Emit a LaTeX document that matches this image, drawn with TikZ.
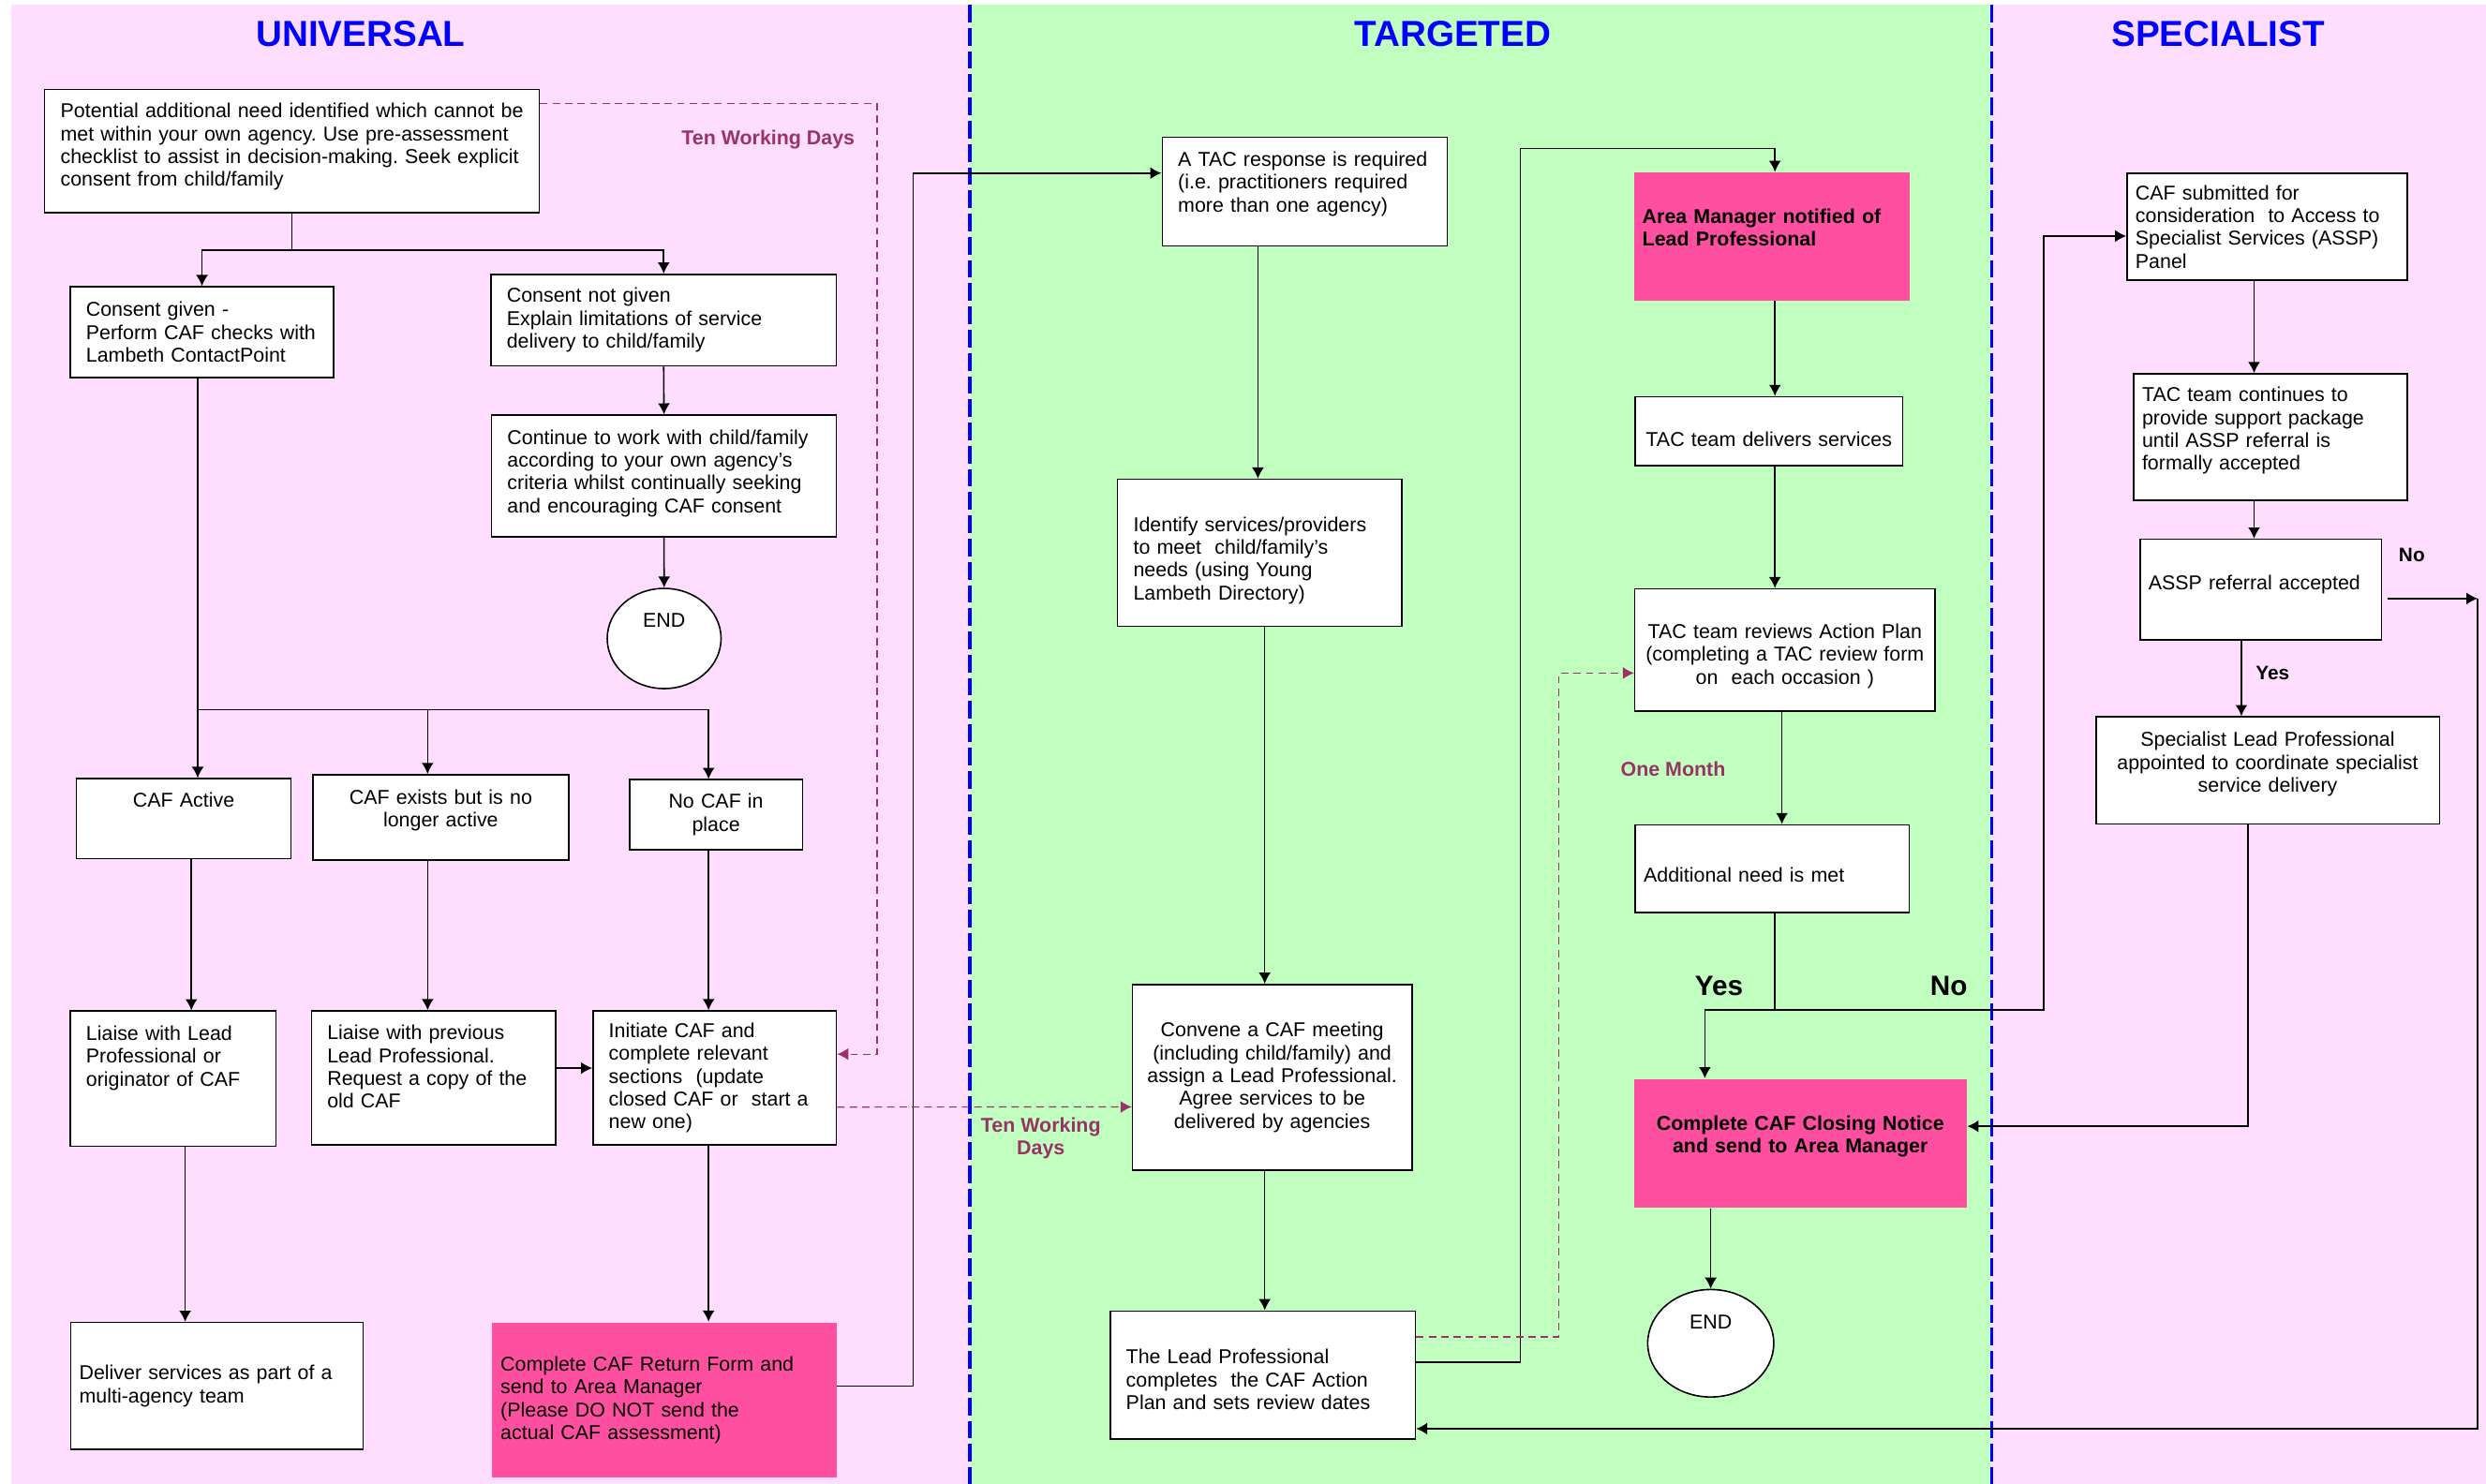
\documentclass[tikz,border=0pt]{standalone}
\usepackage{fontspec}
\setmainfont{Liberation Sans}
\usepackage{tikz}
\usetikzlibrary{arrows.meta,calc,positioning,shapes}

\definecolor{lanepink}{HTML}{FFDDFF}
\definecolor{lanegreen}{HTML}{C0FFC0}
\definecolor{hotpink}{HTML}{FF4FA0}
\definecolor{plum}{HTML}{993366}
\frenchspacing

\begin{document}
\begin{tikzpicture}[x=0.03cm,y=-0.03cm,>={Latex[length=6pt,width=6.5pt]},font=\fontsize{10.8pt}{12.3pt}\selectfont]
	\tikzstyle{block} = [draw, rectangle, fill=white, line width=0.8pt, inner xsep=0.3cm, inner ysep=2pt, align=left]
	\tikzstyle{slim} = [block, inner xsep=0.16cm]
	\tikzstyle{hot} = [slim, draw=none, fill=hotpink]
	\tikzstyle{stop} = [draw, ellipse, fill=white, line width=0.8pt, text width=1cm, align=center]
	\tikzstyle{link} = [->, line width=0.8pt]
	\tikzstyle{wait} = [->, draw=plum, line width=0.6pt, dash pattern=on 4pt off 2.7pt]
	\tikzstyle{lane} = [draw=blue, line width=1.7pt, dash pattern=on 9.5pt off 3pt]
	\tikzstyle{title} = [text=blue, font=\fontsize{19.5pt}{23pt}\selectfont\bfseries]
	\tikzstyle{delay} = [text=plum, font=\fontsize{10.8pt}{12.3pt}\selectfont\bfseries]
	\tikzstyle{answer} = [font=\fontsize{15pt}{18pt}\selectfont\bfseries]
	\tikzstyle{minor answer} = [font=\fontsize{10.5pt}{12pt}\selectfont\bfseries]

	\useasboundingbox (0,0) rectangle (1568,936);
	\fill[white] (0,0) rectangle (1568,936);
	\fill[lanepink] (7,3) rectangle (611.6,936);
	\fill[lanegreen] (611.6,3) rectangle (1256.2,936);
	\fill[lanepink] (1256.2,3) rectangle (1568,936);
	\draw[lane] (611.6,3) -- (611.6,936);
	\draw[lane] (1256.2,3) -- (1256.2,936);

	\node[title] (universal) at (227.5,21.3) {UNIVERSAL};
	\node[title] (targeted) at (916.3,21.3) {TARGETED};
	\node[title] (specialist) at (1399,21.2) {SPECIALIST};

	% universal
	\node[block, text width=8.76cm, minimum height=2.334cm] (need) at (184.2,95.3) {Potential additional need identified which cannot be\\met within your own agency. Use pre-assessment\\checklist to assist in decision-making. Seek explicit\\consent from child/family\par\kern4.4pt};
	\node[block, text width=4.386cm, minimum height=1.713cm] (consent) at (127.4,209.5) {Consent given -\\Perform CAF checks with\\Lambeth ContactPoint};
	\node[block, text width=5.937cm, minimum height=1.734cm] (noconsent) at (418.6,202) {Consent not given\\Explain limitations of service\\delivery to child/family};
	\node[block, text width=5.928cm, minimum height=2.301cm] (continue) at (418.8,300.3) {Continue to work with child/family\\according to your own agency’s\\criteria whilst continually seeking\\and encouraging CAF consent\par\kern3pt};
	\node[stop, minimum width=2.154cm, minimum height=1.896cm] (end1) at (418.9,402.8) {END\par\kern19.3pt};

	\node[slim, align=center, text width=3.739cm, minimum height=1.515cm] (cafactive) at (115.9,516.5) {CAF Active\par\kern20pt};
	\node[slim, align=center, text width=4.525cm, minimum height=1.611cm] (cafexists) at (278,515.6) {CAF exists but is no\\longer active\par\kern7.5pt};
	\node[slim, align=center, text width=2.95cm, minimum height=1.32cm] (nocaf) at (451.6,513.9) {No CAF in\\place};

	\node[block, text width=3.291cm, minimum height=2.559cm] (liaiselead) at (109.2,680.5) {Liaise with Lead\\Professional or\\originator of CAF\par\kern22.5pt};
	\node[block, text width=4.023cm, minimum height=2.535cm] (liaiseprev) at (273.5,680) {Liaise with previous\\Lead Professional.\\Request a copy of the\\old CAF\par\kern11.9pt};
	\node[block, text width=4.008cm, minimum height=2.535cm] (initiate) at (450.8,680) {Initiate CAF and\\complete relevant\\sections~ (update\\closed CAF or~ start a\\new one)};

	\node[slim, text width=5.208cm, minimum height=2.397cm] (deliver) at (136.8,874.3) {Deliver services as part of a\\multi-agency team};
	\node[hot, text width=6.195cm, minimum height=2.94cm] (returnform) at (419,883.3) {Complete CAF Return Form and\\send to Area Manager\\(Please DO NOT send the\\actual CAF assessment)};

	% targeted
	\node[block, text width=4.797cm, minimum height=2.055cm] (tacresp) at (823,120.8) {A TAC response is required\\(i.e. practitioners required\\more than one agency)\par\kern8pt};
	\node[block, text width=4.776cm, minimum height=2.778cm] (identify) at (794.5,348.7) {\rule{0pt}{16pt}Identify services/providers\\to meet~ child/family’s\\needs (using Young\\Lambeth Directory)};
	\node[slim, align=center, text width=4.968cm, minimum height=3.519cm] (convene) at (802.4,679.7) {Convene a CAF meeting\\(including child/family) and\\assign a Lead Professional.\\Agree services to be\\delivered by agencies};
	\node[block, text width=5.175cm, minimum height=2.421cm] (leadprof) at (796.5,867.4) {\rule{0pt}{12.8pt}The Lead Professional\\completes~ the CAF Action\\Plan and sets review dates};

	\node[hot, text width=4.902cm, minimum height=2.415cm, font=\fontsize{10.8pt}{12.3pt}\selectfont\bfseries] (areamgr) at (1117.6,149.2) {Area Manager notified of\\Lead Professional\par\kern9.7pt};
	\node[slim, align=center, text width=4.737cm, minimum height=1.302cm] (tacdeliv) at (1115.7,272) {\rule{0pt}{16.9pt}TAC team delivers services};
	\node[slim, align=center, text width=5.361cm, minimum height=2.307cm] (tacreview) at (1125.8,410) {\rule{0pt}{14.5pt}TAC team reviews Action Plan\\(completing a TAC review form\\on~ each occasion )};
	\node[slim, text width=4.866cm, minimum height=1.662cm] (needmet) at (1117.8,548.1) {\rule{0pt}{14.2pt}Additional need is met};
	\node[hot, align=center, text width=5.973cm, minimum height=2.43cm, font=\fontsize{10.8pt}{12.3pt}\selectfont\bfseries] (closing) at (1135.5,721.2) {Complete CAF Closing Notice\\and send to Area Manager\par\kern7pt};
	\node[stop, minimum width=2.385cm, minimum height=2.034cm] (end2) at (1079,847.4) {END\par\kern22.4pt};

	% specialist
	\node[slim, text width=4.986cm, minimum height=2.025cm] (asspsub) at (1430,143) {CAF submitted for\\consideration~ to Access to\\Specialist Services (ASSP)\\Panel};
	\node[slim, text width=4.86cm, minimum height=2.391cm] (taccont) at (1432.1,275.7) {TAC team continues to\\provide support package\\until ASSP referral is\\formally accepted\par\kern6.8pt};
	\node[slim, text width=4.248cm, minimum height=1.905cm] (asspacc) at (1425.9,372) {ASSP referral accepted\par\kern5.8pt};
	\node[slim, align=center, text width=6.18cm, minimum height=2.025cm] (speclead) at (1430.3,486) {Specialist Lead Professional\\appointed to coordinate specialist\\service delivery\par\kern6.7pt};

	% labels
	\node[delay] (tenwd) at (484.5,88) {Ten Working Days};
	\node[delay, align=center] (tenwd2) at (656.5,718) {Ten Working\\Days};
	\node[delay] (onemonth) at (1055.3,485.2) {One Month};
	\node[answer] (metyes) at (1084.2,622.3) {Yes};
	\node[answer] (metno) at (1229.2,622.3) {No};
	\node[minor answer] (accno) at (1521.2,350) {No};
	\node[minor answer] (accyes) at (1433.4,424.5) {Yes};

	% universal links
	\draw[line width=0.8pt] (need.south) -- ++(0,23.3) coordinate (split1);
	\draw[link] (split1) -| (consent.north);
	\draw[link] (split1) -| (noconsent.north);
	\draw[link] (noconsent.south) -- (continue.north);
	\draw[link] (continue.south) -- (end1.north);

	\coordinate (split2) at ($(consent.south)+(-2.7,209.1)$);
	\draw[line width=0.8pt] (split2 |- consent.south) -- (split2);
	\draw[link] (split2) -- (split2 |- cafactive.north);
	\draw[link] (split2) -| ($(cafexists.north)+(-8.3,0)$);
	\draw[link] (split2) -| ($(nocaf.north)+(-4.7,0)$);

	\coordinate (c1) at ($(cafactive.south)+(4.8,0)$);
	\coordinate (c2) at ($(cafexists.south)+(-8.3,0)$);
	\coordinate (c3) at ($(nocaf.south)+(-4.7,0)$);
	\draw[link] (c1) -- (c1 |- liaiselead.north);
	\draw[link] (c2) -- (c2 |- liaiseprev.north);
	\draw[link] (c3) -- (c3 |- initiate.north);
	\coordinate (c4) at ($(liaiseprev.east)+(0,-6.2)$);
	\draw[link] (c4) -- (c4 -| initiate.west);
	\coordinate (c5) at ($(liaiselead.south)+(7.6,0)$);
	\draw[link] (c5) -- (c5 |- deliver.north);
	\coordinate (c6) at ($(initiate.south)+(-3.9,0)$);
	\draw[link] (c6) -- (c6 |- returnform.north);

	\coordinate (rf) at ($(returnform.east)+(0,-8.9)$);
	\coordinate (ta) at ($(tacresp.west)+(0,-11.6)$);
	\draw[link] (rf) -- ++(47.8,0) |- (ta);

	\coordinate (ie) at ($(initiate.east)+(0,-15)$);
	\draw[wait] ($(need.east)+(0,-29.9)$) -- ++(212.5,0) |- (ie);
	\draw[wait] ($(initiate.east)+(0,18.4)$) -- ($(convene.west)+(0,18.6)$);

	% targeted links
	\coordinate (t1) at ($(tacresp.south)+(-29.6,0)$);
	\draw[link] (t1) -- (t1 |- identify.north);
	\coordinate (t2) at ($(identify.south)+(3.2,0)$);
	\draw[link] (t2) -- (t2 |- convene.north);
	\draw[link] (t2 |- convene.south) -- (t2 |- leadprof.north);

	\coordinate (am) at ($(areamgr.north)+(1.9,0)$);
	\draw[link] ($(leadprof.east)+(0,-7.9)$) -- ++(65.7,0) |- ($(am)+(0,-14.8)$) -- (am);
	\coordinate (tr) at ($(tacreview.west)+(0,14.6)$);
	\draw[wait] ($(leadprof.east)+(0,-24)$) -- ++(90.1,0) |- (tr);

	\draw[link] (am |- areamgr.south) -- (am |- tacdeliv.north);
	\draw[link] (am |- tacdeliv.south) -- (am |- tacreview.north);
	\coordinate (t3) at ($(tacreview.south)+(-1.9,0)$);
	\draw[link] (t3) -- (t3 |- needmet.north);

	\draw[line width=0.8pt] (am |- needmet.south) -- ++(0,60.7) coordinate (split3);
	\draw[link] (split3) -| ($(closing.north)+(-60.2,0)$);
	\coordinate (as) at ($(asspsub.west)+(0,5.9)$);
	\draw[link] (split3) -- ++(169.4,0) |- (as);
	\draw[link] (end2.north |- closing.south) -- (end2.north);

	% specialist links
	\coordinate (s1) at ($(asspsub.south)+(-8.3,0)$);
	\draw[link] (s1) -- (s1 |- taccont.north);
	\draw[link] (s1 |- taccont.south) -- (s1 |- asspacc.north);
	\coordinate (s2) at ($(asspacc.south)+(-12.2,0)$);
	\draw[link] (s2) -- (s2 |- speclead.north);

	\coordinate (nx) at ($(asspacc.east)+(3.5,5.6)$);
	\draw[link] (nx) -- ++(56.7,0) coordinate (turn);
	\draw[link] (turn) |- ($(leadprof.east)+(0,33.9)$);
	\coordinate (cl) at ($(closing.east)+(0,-10.7)$);
	\draw[link] ($(speclead.south)+(-12.4,0)$) |- (cl);
\end{tikzpicture}
\end{document}
